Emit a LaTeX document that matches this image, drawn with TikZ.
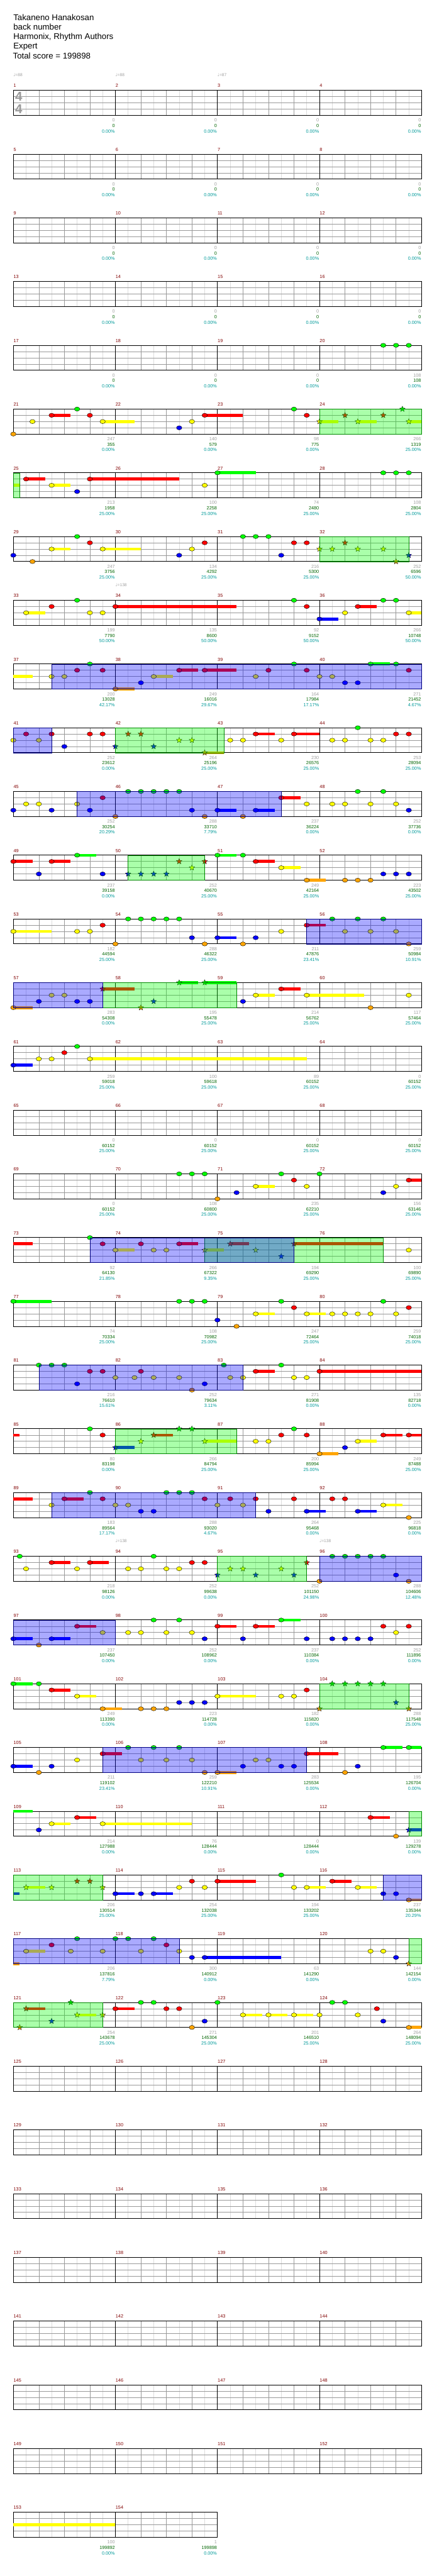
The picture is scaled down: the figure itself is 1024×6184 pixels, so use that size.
\documentclass[tikz,border=0pt]{standalone}
\usepackage{fontspec}
\setmainfont{Liberation Sans}
\newfontfamily\notefont{DejaVu Sans}
\usetikzlibrary{shapes.geometric}
\definecolor{lane0}{HTML}{00FF00}
\definecolor{lane1}{HTML}{FF0000}
\definecolor{lane2}{HTML}{FFFF00}
\definecolor{lane3}{HTML}{0000FF}
\definecolor{lane4}{HTML}{FFA500}
\definecolor{MeasureRed}{HTML}{800000}
\definecolor{PtsGray}{HTML}{A0A0A0}
\definecolor{TotGreen}{HTML}{006400}
\definecolor{PctTeal}{HTML}{009999}
\definecolor{GridLight}{HTML}{DDDDDD}
\definecolor{GridMid}{HTML}{999999}
\definecolor{SpBorder}{HTML}{008800}
\definecolor{OdBorder}{HTML}{000080}

\tikzset{
  chartrow/.style={shift={(32pt,{-(217+153*#1)*1pt})}, x=30.625pt, y=-15pt},
  eighthline/.style={GridLight, line width=0.8pt},
  quarterline/.style={GridMid, line width=0.8pt},
  laneline/.style={GridMid, line width=1pt},
  barline/.style={black, line width=0.8pt},
  staffborder/.style={black, line width=1.3pt},
  gemline/.style={black, line width=0.6pt},
  starnote/.style={star, star points=5, star point ratio=2.3, draw=black,
    line width=0.5pt, inner sep=0pt, minimum size=14pt},
  spbox/.style={fill=lane0, fill opacity=0.333, draw=SpBorder, line width=0.8pt},
  odbox/.style={fill=lane3, fill opacity=0.333, draw=OdBorder, line width=0.8pt},
  smalltext/.style={inner sep=0pt, font=\fontsize{11}{11}\selectfont},
  mnum/.style={smalltext, anchor=west, xshift=0.5pt, yshift=11pt, text=MeasureRed},
  pts/.style={smalltext, anchor=east, xshift=-1pt, yshift=-12pt, text=PtsGray},
  tot/.style={smalltext, anchor=east, xshift=-1pt, yshift=-25pt, text=TotGreen},
  pct/.style={smalltext, anchor=east, xshift=-1pt, yshift=-38pt, text=PctTeal},
  tempomark/.style={inner sep=0pt, anchor=west, yshift=37pt, text=PtsGray,
    font=\fontsize{10}{10}\selectfont},
  timesig/.style={inner sep=0pt, text=GridMid, xshift=13pt,
    font=\fontsize{31}{31}\selectfont\bfseries},
  titletext/.style={inner sep=0pt, anchor=base west, font=\fontsize{20}{20}\selectfont}
}

% staff of one row: row index, number of measures
\newcommand\drawstaff[2]{%
  \pgfmathtruncatemacro\rowlen{8*#2}%
  \foreach \e in {1,...,\rowlen} {\draw[eighthline] (\e,0) -- (\e,4);}
  \foreach \e in {2,4,...,\rowlen} {\draw[quarterline] (\e,0) -- (\e,4);}
  \foreach \l in {1,2,3} {\draw[laneline] (0,\l) -- (\rowlen,\l);}
  \foreach \m in {1,...,#2} {%
    \draw[barline] (8*\m,0) -- (8*\m,4);
    \pgfmathtruncatemacro\mm{4*#1+\m}%
    \node[mnum] (m\mm) at (8*\m-8,0) {\mm};}
  \draw[staffborder] (0,0) rectangle (\rowlen,4);
}
% notes: position in eighths, lane 0 (top) .. 4 (bottom)
\newcommand\gem[2]{\draw[gemline, fill=lane#2] (#1,#2) ellipse [x radius=6.5pt, y radius=5pt];}
\newcommand\gems[2]{\foreach \e in {#2} {\gem{\e}{#1}}}
\newcommand\sus[3]{\draw[lane#3, line width=7pt] (#1,#3) -- (#2,#3);}
\newcommand\sgem[3]{\sus{#1}{#2}{#3}\gem{#1}{#3}}
\newcommand\sstar[2]{\node[starnote, fill=lane#2] at (#1,#2) {};}
\newcommand\stars[2]{\foreach \e in {#2} {\sstar{\e}{#1}}}
\newcommand\ssus[3]{\sus{#1}{#2}{#3}\sstar{#1}{#3}}
\newcommand\spzone[2]{\draw[spbox] (#1,0) rectangle (#2,4);}
\newcommand\odzone[2]{\draw[odbox] (#1,0) rectangle (#2,4);}
\newcommand\tempo[2]{\node[tempomark] at (#1,0) {{\notefont ♩}=#2};}
% scores under a measure: measure, points, total, percent
\newcommand\msc[4]{%
  \pgfmathtruncatemacro\mk{mod(#1-1,4)+1}%
  \node[pts] (p#1) at (8*\mk,4) {#2};
  \node[tot] (t#1) at (8*\mk,4) {#3};
  \node[pct] (q#1) at (8*\mk,4) {#4};}

\begin{document}
\begin{tikzpicture}[x=1pt, y=-1pt]
\path[use as bounding box] (0,0) rectangle (1024,6184);

% Header
\node[titletext] (song) at (32,49.4) {Takaneno Hanakosan};
\node[titletext] (artist) at (32,71.7) {back number};
\node[titletext] (charter) at (32,95) {Harmonix, Rhythm Authors};
\node[titletext] (level) at (32,117.7) {Expert};
\node[titletext] (total) at (31,141) {Total score = 199898};

% Rows 1-5
\begin{scope}[chartrow=0]
\drawstaff{0}{4}
\node[timesig] (ts1) at (0,1) {4};
\node[timesig] (ts2) at (0,3) {4};
\tempo{0}{88}\tempo{8}{88}\tempo{16}{87}
\msc{1}{0}{0}{0.00\%}\msc{2}{0}{0}{0.00\%}\msc{3}{0}{0}{0.00\%}\msc{4}{0}{0}{0.00\%}
\end{scope}

\begin{scope}[chartrow=1]
\drawstaff{1}{4}
\msc{5}{0}{0}{0.00\%}\msc{6}{0}{0}{0.00\%}\msc{7}{0}{0}{0.00\%}\msc{8}{0}{0}{0.00\%}
\end{scope}

\begin{scope}[chartrow=2]
\drawstaff{2}{4}
\msc{9}{0}{0}{0.00\%}\msc{10}{0}{0}{0.00\%}\msc{11}{0}{0}{0.00\%}\msc{12}{0}{0}{0.00\%}
\end{scope}

\begin{scope}[chartrow=3]
\drawstaff{3}{4}
\msc{13}{0}{0}{0.00\%}\msc{14}{0}{0}{0.00\%}\msc{15}{0}{0}{0.00\%}\msc{16}{0}{0}{0.00\%}
\end{scope}

\begin{scope}[chartrow=4]
\drawstaff{4}{4}
\gems{0}{29,30,31}
\msc{17}{0}{0}{0.00\%}\msc{18}{0}{0}{0.00\%}\msc{19}{0}{0}{0.00\%}\msc{20}{108}{108}{0.00\%}
\end{scope}

% Rows 21-40
\begin{scope}[chartrow=5]
\drawstaff{5}{4}
\gem{0}{4}\gem{1.5}{2}\sgem{3}{4.5}{1}\gem{5}{0}\gem{6}{1}\sgem{7}{9.5}{2}\gem{13}{3}\gem{14}{2}
\sgem{15}{18}{1}\gem{22}{0}\gem{23}{1}
\ssus{24}{25.5}{2}\sstar{26}{1}\ssus{27}{28.5}{2}\sstar{29}{1}\sstar{30.5}{0}\ssus{31}{32}{2}
\spzone{24}{32}
\msc{21}{247}{355}{0.00\%}\msc{22}{140}{579}{0.00\%}\msc{23}{98}{775}{0.00\%}\msc{24}{266}{1319}{25.00\%}
\end{scope}

\begin{scope}[chartrow=6]
\drawstaff{6}{4}
\sus{0}{0.5}{2}\sgem{1}{2.5}{1}\sgem{3}{4.5}{2}\gem{5}{3}\sgem{6}{13}{1}\gem{15}{2}\sgem{16}{19}{0}
\gems{0}{29,30,31}
\spzone{0}{0.5}
\msc{25}{213}{1958}{25.00\%}\msc{26}{100}{2258}{25.00\%}\msc{27}{74}{2480}{25.00\%}\msc{28}{108}{2804}{25.00\%}
\end{scope}

\begin{scope}[chartrow=7]
\drawstaff{7}{4}
\gem{0}{3}\gem{1.5}{4}\sgem{3}{4.5}{2}\gem{5}{0}\gem{6}{1}\sgem{7}{10}{2}\gem{13}{3}\gem{14}{2}\gem{15}{1}
\gems{0}{18,19,20}\gem{21}{3}\gems{1}{22,23}
\stars{2}{24,25,27,29}\sstar{26}{1}\sstar{30}{4}\sstar{31}{3}
\spzone{24}{31}
\msc{29}{247}{3756}{25.00\%}\msc{30}{134}{4292}{25.00\%}\msc{31}{216}{5300}{25.00\%}\msc{32}{252}{6596}{50.00\%}
\end{scope}

\begin{scope}[chartrow=8]
\drawstaff{8}{4}
\tempo{8}{138}
\sgem{1}{2.5}{2}\gem{3}{1}\gem{5}{0}\gems{2}{6,7}\sgem{8}{17.5}{1}\gem{22}{0}\gem{23}{1}
\sgem{24}{25.5}{3}\gem{26}{2}\sgem{27}{28.5}{1}\gems{0}{29,30}\sgem{31}{32}{2}
\msc{33}{199}{7790}{50.00\%}\msc{34}{135}{8600}{50.00\%}\msc{35}{92}{9152}{50.00\%}\msc{36}{266}{10748}{50.00\%}
\end{scope}

\begin{scope}[chartrow=9]
\drawstaff{9}{4}
\sus{0}{1.5}{2}\gems{2}{3,4}\gem{5}{1}\gem{6}{0}\gem{7}{1}\sgem{8}{9.5}{4}\gem{10}{3}\sgem{11}{12.5}{2}
\sgem{13}{14.5}{1}\sgem{15}{17.5}{1}\gem{19}{2}\gem{20}{1}\gem{22}{0}\gem{23}{1}\gems{2}{24,25}
\gems{3}{26,27}\sgem{28}{29.5}{0}\gem{30}{0}\gem{31}{1}
\odzone{3}{32}
\msc{37}{200}{13028}{42.17\%}\msc{38}{249}{16016}{29.67\%}\msc{39}{164}{17984}{17.17\%}\msc{40}{271}{21452}{4.67\%}
\end{scope}

% Rows 41-60
\begin{scope}[chartrow=10]
\drawstaff{10}{4}
\gem{0}{2}\gem{1}{1}\gem{2}{2}\gem{3}{1}\gem{4}{3}\gems{1}{6,7}
\stars{3}{8,11}\stars{1}{9,10}\stars{2}{13,14}\ssus{15}{16.5}{4}
\gems{2}{17,18}\sgem{19}{20.5}{1}\gem{21}{2}\sgem{22}{24}{1}\gems{2}{25,26}\gem{27}{0}\gems{2}{28,29}\gems{1}{30,31}
\spzone{8}{16.5}\odzone{0}{3}
\msc{41}{252}{23612}{0.00\%}\msc{42}{264}{25196}{25.00\%}\msc{43}{230}{26576}{25.00\%}\msc{44}{253}{28094}{25.00\%}
\end{scope}

\begin{scope}[chartrow=11]
\drawstaff{11}{4}
\gem{0}{3}\gems{2}{1,2}\gem{3}{3}\gem{5}{2}\gem{6}{3}\gem{7}{1}\gem{8}{4}\gems{0}{9,10,11,12,13}\gem{14}{3}
\gem{15}{4}\sgem{16}{17.5}{3}\gem{18}{4}\sgem{19}{20.5}{3}\sgem{21}{22.5}{1}\gem{23}{2}\gems{2}{25,26}
\gem{27}{0}\gem{28}{2}\gem{29}{0}\gem{30}{2}\gem{31}{3}
\odzone{5}{21}
\msc{45}{252}{30254}{20.29\%}\msc{46}{288}{33710}{7.79\%}\msc{47}{237}{36224}{0.00\%}\msc{48}{252}{37736}{0.00\%}
\end{scope}

\begin{scope}[chartrow=12]
\drawstaff{12}{4}
\sgem{0}{1.5}{1}\gem{2}{3}\sgem{3}{4.5}{1}\sgem{5}{6.5}{0}\gem{7}{3}
\stars{3}{9,10,11,12}\stars{1}{13,15}\sstar{14}{2}
\sgem{16}{17.5}{0}\gem{18}{0}\sgem{19}{20.5}{1}\sgem{21}{22.5}{2}\sgem{23}{24.5}{4}\gems{4}{26,27,28}\gems{3}{29,30,31}
\spzone{9}{15}
\msc{49}{237}{39158}{0.00\%}\msc{50}{252}{40670}{25.00\%}\msc{51}{249}{42164}{25.00\%}\msc{52}{223}{43502}{25.00\%}
\end{scope}

\begin{scope}[chartrow=13]
\drawstaff{13}{4}
\sgem{0}{3}{2}\gems{2}{5,6}\gem{7}{1}\gem{8}{4}\gems{0}{9,10,11,12,13}\gem{14}{3}\gem{15}{4}
\sgem{16}{17.5}{3}\gem{18}{4}\gem{19}{3}\gem{21}{2}\sgem{23}{24.5}{1}\gems{0}{25,27,29}\gems{2}{26,28,30}\gem{31}{4}
\odzone{23}{32}
\msc{53}{182}{44594}{25.00\%}\msc{54}{288}{46322}{25.00\%}\msc{55}{211}{47876}{23.41\%}\msc{56}{259}{50984}{10.91\%}
\end{scope}

\begin{scope}[chartrow=14]
\drawstaff{14}{4}
\sgem{0}{1.5}{4}\gem{2}{3}\gems{2}{3,4}\gems{3}{5,6}
\ssus{7}{9.5}{1}\sstar{10}{4}\sstar{11}{3}\ssus{13}{14.5}{0}\ssus{15}{17.5}{0}
\gem{18}{3}\sgem{19}{20.5}{2}\sgem{21}{22.5}{1}\sgem{23}{27.5}{2}\gem{28}{4}\gem{31}{2}
\spzone{7}{17.5}\odzone{0}{7}
\msc{57}{283}{54308}{0.00\%}\msc{58}{195}{55478}{25.00\%}\msc{59}{214}{56762}{25.00\%}\msc{60}{117}{57464}{25.00\%}
\end{scope}

% Rows 61-80
\begin{scope}[chartrow=15]
\drawstaff{15}{4}
\sgem{0}{1.5}{3}\gems{2}{2,3}\gem{4}{1}\gem{5}{0}\sgem{6}{23}{2}
\msc{61}{259}{59018}{25.00\%}\msc{62}{100}{59618}{25.00\%}\msc{63}{89}{60152}{25.00\%}\msc{64}{0}{60152}{25.00\%}
\end{scope}

\begin{scope}[chartrow=16]
\drawstaff{16}{4}
\msc{65}{0}{60152}{25.00\%}\msc{66}{0}{60152}{25.00\%}\msc{67}{0}{60152}{25.00\%}\msc{68}{0}{60152}{25.00\%}
\end{scope}

\begin{scope}[chartrow=17]
\drawstaff{17}{4}
\gems{0}{13,14,15}\gem{16}{4}\gem{17.5}{3}\sgem{19}{20.5}{2}\gem{21}{0}\gem{22}{1}\gem{23}{2}\gem{24}{0}
\gem{29}{3}\gem{30}{2}\sgem{31}{32}{1}
\msc{69}{0}{60152}{25.00\%}\msc{70}{108}{60800}{25.00\%}\msc{71}{235}{62210}{25.00\%}\msc{72}{156}{63146}{25.00\%}
\end{scope}

\begin{scope}[chartrow=18]
\drawstaff{18}{4}
\sus{0}{1.5}{1}\gem{6}{0}\gem{7}{1}\sgem{8}{9.5}{2}\gem{10}{1}\gems{2}{11,12}\sgem{13}{14.5}{1}
\ssus{15}{16.5}{2}\ssus{17}{18.5}{1}\sstar{19}{2}\sstar{21}{3}\ssus{22}{29}{1}\gem{31}{2}
\spzone{15}{29}\odzone{6}{22}
\msc{73}{92}{64130}{21.85\%}\msc{74}{266}{67322}{9.35\%}\msc{75}{194}{69290}{25.00\%}\msc{76}{100}{69890}{25.00\%}
\end{scope}

\begin{scope}[chartrow=19]
\drawstaff{19}{4}
\sgem{0}{3}{0}\gems{0}{13,14,15}\gem{16}{3}\gem{17.5}{4}\sgem{19}{20.5}{2}\gem{21}{0}\gem{22}{1}
\sgem{23}{24.5}{2}\gems{2}{25,26,27,28}\gem{29}{0}\gem{30}{2}\gem{31}{1}
\msc{77}{74}{70334}{25.00\%}\msc{78}{108}{70982}{25.00\%}\msc{79}{247}{72464}{25.00\%}\msc{80}{259}{74018}{25.00\%}
\end{scope}

% Rows 81-100
\begin{scope}[chartrow=20]
\drawstaff{20}{4}
\gems{0}{2,3,4}\gem{5}{3}\gems{1}{6,7}\gem{8}{2}\gem{9.5}{2}\gem{10}{1}\gem{11}{2}\gem{13}{2}\gem{14}{4}
\gem{15}{3}\gem{16.5}{0}\gem{17}{2}\gem{18}{2}\sgem{19}{20.5}{1}\gem{21}{0}\gems{2}{22,23}\sgem{24}{32}{1}
\odzone{2}{18}
\msc{81}{216}{76610}{15.61\%}\msc{82}{252}{79634}{3.11\%}\msc{83}{271}{81908}{0.00\%}\msc{84}{135}{82718}{0.00\%}
\end{scope}

\begin{scope}[chartrow=21]
\drawstaff{21}{4}
\sus{0}{0.5}{1}\gem{6}{0}\gem{7}{1}
\ssus{8}{9.5}{3}\sstar{10}{2}\ssus{11}{12.5}{1}\stars{0}{13,14}\ssus{15}{17.5}{2}
\gems{2}{19,20}\gem{21}{1}\gem{22}{0}\gem{23}{1}\sgem{24}{25.5}{4}\gem{26}{3}\sgem{27}{28.5}{2}
\sgem{29}{30.5}{1}\sgem{31}{32}{1}
\spzone{8}{17.5}
\msc{85}{80}{83198}{0.00\%}\msc{86}{266}{84794}{25.00\%}\msc{87}{200}{85994}{25.00\%}\msc{88}{249}{87488}{25.00\%}
\end{scope}

\begin{scope}[chartrow=22]
\drawstaff{22}{4}
\sus{0}{1.5}{1}\gem{3}{2}\sgem{4}{5.5}{1}\gem{6}{0}\gem{7}{1}\gems{2}{8,9}\gems{3}{10,11}\gems{0}{12,13,14}
\gem{15}{1}\gem{16}{2}\gem{17}{1}\gem{18}{2}\gem{19}{1}\gem{20}{3}\gem{22}{1}\sgem{23}{24.5}{3}
\gems{1}{25,26}\sgem{27}{28.5}{3}\sgem{29}{30.5}{2}\gem{31}{4}
\odzone{3}{19}
\msc{89}{183}{89564}{17.17\%}\msc{90}{288}{93020}{4.67\%}\msc{91}{264}{95468}{0.00\%}\msc{92}{225}{96818}{0.00\%}
\end{scope}

\begin{scope}[chartrow=23]
\drawstaff{23}{4}
\tempo{8}{138}\tempo{24}{138}
\gem{0.5}{0}\gem{1}{2}\sgem{3}{4.5}{1}\gem{5}{2}\sgem{6}{7.5}{1}\gems{2}{9,10}\gem{11}{0}\gems{2}{12,13}\gems{1}{14,15}
\stars{3}{16,19,22}\stars{2}{17,18,21}\sstar{23}{1}
\gem{24}{4}\gems{0}{25,26,27,28,29}\gem{30}{3}\gem{31}{4}
\spzone{16}{23}\odzone{24}{32}
\msc{93}{218}{98126}{0.00\%}\msc{94}{252}{99638}{0.00\%}\msc{95}{252}{101150}{24.98\%}\msc{96}{288}{104606}{12.48\%}
\end{scope}

\begin{scope}[chartrow=24]
\drawstaff{24}{4}
\sgem{0}{1.5}{3}\gem{2}{4}\sgem{3}{4.5}{3}\sgem{5}{6.5}{1}\gem{7}{2}\gems{2}{9,10}\gem{11}{0}\gem{12}{2}
\gem{13}{0}\gem{14}{2}\gem{15}{3}\sgem{16}{17.5}{1}\gem{18}{3}\sgem{19}{20.5}{1}\sgem{21}{22.5}{0}\gem{23}{3}
\gems{3}{25,26,27,28}\gem{29}{1}\gem{30}{2}\gem{31}{1}
\odzone{0}{8}
\msc{97}{237}{107450}{0.00\%}\msc{98}{252}{108962}{0.00\%}\msc{99}{237}{110384}{0.00\%}\msc{100}{252}{111896}{0.00\%}
\end{scope}

% Rows 101-120
\begin{scope}[chartrow=25]
\drawstaff{25}{4}
\sgem{0}{1.5}{0}\gem{2}{0}\sgem{3}{4.5}{1}\sgem{5}{6.5}{2}\sgem{7}{8.5}{4}\gems{4}{10,11,12}\gems{3}{13,14,15}
\sgem{16}{19}{2}\gems{2}{21,22}\gem{23}{1}
\stars{4}{24,31}\stars{0}{25,26,27,28,29}\sstar{30}{3}
\spzone{24}{31}
\msc{101}{249}{113390}{0.00\%}\msc{102}{223}{114728}{0.00\%}\msc{103}{182}{115820}{0.00\%}\msc{104}{288}{117548}{25.00\%}
\end{scope}

\begin{scope}[chartrow=26]
\drawstaff{26}{4}
\sgem{0}{1.5}{3}\gem{2}{4}\gem{3}{3}\gem{5}{2}\sgem{7}{8.5}{1}\gems{0}{9,11,13}\gems{2}{10,12,14}\gem{15}{4}
\sgem{16}{17.5}{4}\gem{18}{3}\gems{2}{19,20}\gems{3}{21,22}\sgem{23}{25.5}{1}\gem{26}{4}\gem{27}{3}
\sgem{29}{30.5}{0}\sgem{31}{32}{0}
\odzone{7}{23}
\msc{105}{211}{119102}{23.41\%}\msc{106}{259}{122210}{10.91\%}\msc{107}{283}{125534}{0.00\%}\msc{108}{195}{126704}{0.00\%}
\end{scope}

\begin{scope}[chartrow=27]
\drawstaff{27}{4}
\sus{0}{1.5}{0}\gem{2}{3}\sgem{3}{4.5}{2}\sgem{5}{6.5}{1}\sgem{7}{14}{2}\sgem{28}{29.5}{1}\gem{30}{4}\ssus{31}{32}{3}
\spzone{31}{32}
\msc{109}{214}{127988}{0.00\%}\msc{110}{76}{128444}{0.00\%}\msc{111}{0}{128444}{0.00\%}\msc{112}{139}{129278}{0.00\%}
\end{scope}

\begin{scope}[chartrow=28]
\drawstaff{28}{4}
\sus{0}{0.5}{3}\ssus{1}{2.5}{2}\stars{2}{3,7}\stars{1}{5,6}
\sgem{8}{9.5}{3}\gem{10}{3}\sgem{11}{12.5}{3}\gem{13}{2}\gem{14}{1}\gem{15}{2}\sgem{16}{19}{1}\gem{21}{0}
\gem{22}{2}\sgem{23}{24.5}{2}\sgem{25}{26.5}{1}\sgem{27}{28.5}{2}\gems{3}{29,30}\sgem{31}{32}{4}
\spzone{0}{7}\odzone{29}{32}
\msc{113}{206}{130514}{25.00\%}\msc{114}{254}{132038}{25.00\%}\msc{115}{194}{133202}{25.00\%}\msc{116}{237}{135344}{20.29\%}
\end{scope}

\begin{scope}[chartrow=29]
\drawstaff{29}{4}
\sus{0}{0.5}{4}\sgem{1}{2.5}{2}\gem{3}{1}\gem{4.5}{2}\gem{5}{0}\gem{7}{2}\gems{0}{8,9}\gem{10}{2}\gem{11}{0}
\gem{12}{1}\gem{13}{2}\gem{14}{3}\sgem{15}{21}{3}\gems{2}{28,29}\gem{30}{3}\sstar{31}{4}
\spzone{31}{32}\odzone{0}{13}
\msc{117}{206}{137816}{7.79\%}\msc{118}{300}{140912}{0.00\%}\msc{119}{63}{141290}{0.00\%}\msc{120}{144}{142154}{0.00\%}
\end{scope}

% Rows 121-154
\begin{scope}[chartrow=30]
\drawstaff{30}{4}
\sstar{0.5}{4}\ssus{1}{2.5}{1}\sstar{3}{3}\sstar{4.5}{0}\ssus{5}{6.5}{2}\sstar{7}{2}
\sgem{8}{9.5}{1}\gems{0}{10,11}\gems{1}{12,13}\gem{14}{4}\gem{15}{3}\gem{16}{0}\sgem{18}{19.5}{2}
\sgem{20}{21.5}{2}\sgem{22}{23.5}{2}\gem{24}{2}\gems{0}{25,26}\gem{27}{2}\gem{28.5}{1}\gem{29}{3}\sgem{31}{32}{4}
\spzone{0}{7}
\msc{121}{254}{143678}{25.00\%}\msc{122}{271}{145304}{25.00\%}\msc{123}{201}{146510}{25.00\%}\msc{124}{264}{148094}{25.00\%}
\end{scope}

\begin{scope}[chartrow=31]
\drawstaff{31}{4}
\end{scope}
\begin{scope}[chartrow=32]
\drawstaff{32}{4}
\end{scope}
\begin{scope}[chartrow=33]
\drawstaff{33}{4}
\end{scope}
\begin{scope}[chartrow=34]
\drawstaff{34}{4}
\end{scope}
\begin{scope}[chartrow=35]
\drawstaff{35}{4}
\end{scope}
\begin{scope}[chartrow=36]
\drawstaff{36}{4}
\end{scope}
\begin{scope}[chartrow=37]
\drawstaff{37}{4}
\end{scope}

\begin{scope}[chartrow=38]
\drawstaff{38}{2}
\sus{0}{8}{2}
\msc{153}{100}{199892}{0.00\%}\msc{154}{1}{199898}{0.00\%}
\end{scope}
\end{tikzpicture}
\end{document}
